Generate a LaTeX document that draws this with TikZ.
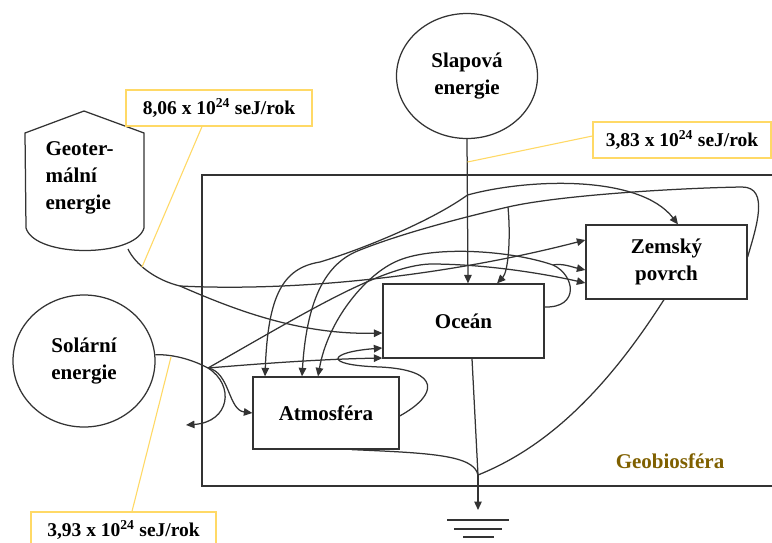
\documentclass[tikz,border=0pt]{standalone}
\usepackage{fontspec}
\setmainfont{Liberation Serif}
\usetikzlibrary{arrows.meta,shapes.geometric}
\definecolor{lnc}{HTML}{333333}
\definecolor{goldline}{HTML}{FFD966}
\definecolor{geotext}{HTML}{7F6000}
\newcommand{\bigbf}{\fontsize{21}{27}\selectfont\bfseries}
\newcommand{\emrate}[1]{#1 x 10\textsuperscript{24} seJ/rok}
\tikzset{
  flowarr/.style  = {-{Triangle[length=8.5pt,width=7.5pt]},lnc,line width=1.25pt},
  flowline/.style = {lnc,line width=1.25pt},
  storebox/.style = {draw=lnc,line width=1.25pt,minimum width=161pt,minimum height=74pt,
                     font=\bigbf,align=center},
  srcnode/.style  = {ellipse,draw=lnc,line width=1.25pt,font=\bigbf,align=center,inner sep=0pt},
  ratebox/.style  = {draw=goldline,line width=1.2pt,minimum height=36pt,
                     font=\fontsize{19.5}{23}\selectfont\bfseries},
  ratelink/.style = {goldline,line width=1.1pt}
}

\begin{document}
\begin{tikzpicture}[x=1pt,y=-1pt]
  \useasboundingbox (0,0) rectangle (772,542);
  \clip (0,0) rectangle (772,542);
  % geobiosphere frame
  \draw[flowline] (202,175) rectangle (790,486);
  \node[font=\bigbf,text=geotext] (gbs) at (670,461) {Geobiosféra};
  % sources
  \node[srcnode,minimum width=141pt,minimum height=125pt] (tide) at (467,76) {Slapová\\energie};
  \node[srcnode,minimum width=142pt,minimum height=132pt] (sun) at (84,361) {Solární\\energie};
  \draw[flowline] (84,111) -- (144,133) -- (144,228) .. controls (135,258) and (35,258) .. (26,228)
    -- (25,133) -- cycle;
  \node[font=\bigbf,align=left,anchor=west] (geo) at (42,178) {Geoter-\\mální\\energie};
  % storages
  \node[storebox] (oce) at (463.5,321) {Oceán};
  \node[storebox] (zem) at (666.5,262) {Zemský\\povrch};
  \node[storebox,minimum width=146pt,minimum height=72pt] (atm) at (326,413) {Atmosféra};
  % rates
  \node[ratebox,minimum width=186pt] (r806) at (219,108) {\emrate{8,06}};
  \node[ratebox,minimum width=178pt] (r383) at (682,140) {\emrate{3,83}};
  \node[ratebox,minimum width=185pt] (r393) at (123.5,530) {\emrate{3,93}};
  % split points
  \coordinate (geoout) at (128,249);
  \coordinate (G) at (180,286);
  \coordinate (S) at (208,368);
  \coordinate (J) at (467.5,195);
  \coordinate (L) at (553,265);
  \coordinate (K) at (508,207);
  \coordinate (M) at (478,475);
  \coordinate (gnd) at (478,520);
  \coordinate (geotap) at (142,267);
  \coordinate (tidetap) at (467.5,162);
  \coordinate (suntap) at (171,357);

  % solar
  \draw[flowline] (sun.5) .. controls (175,354) and (195,361) .. (S);
  \draw[flowarr] (S) .. controls (235,385) and (230,422) .. (186,425);
  \draw[flowarr] (S) .. controls (230,372) and (228,410) .. (atm.west);
  \draw[flowarr] (S) .. controls (280,362) and (330,359) .. (oce.west |- 0,358);
  \draw[flowarr] (S) .. controls (300,316) and (380,266) .. (430,264)
    .. controls (490,264) and (550,275) .. (zem.west |- 0,283);
  % geothermal
  \draw[flowline] (geoout) .. controls (135,264) and (155,280) .. (G);
  \draw[flowarr] (G) .. controls (300,292) and (450,275) .. (zem.west |- 0,240);
  \draw[flowarr] (G) .. controls (235,310) and (300,335) .. (oce.west |- 0,333);
  % tidal
  \draw[flowarr] (tide.south) -- (468,0 |- oce.north);
  \draw[flowarr] (J) .. controls (530,178) and (640,175) .. (678,0 |- zem.north);
  \draw[flowarr] (J) .. controls (430,222) and (360,250) .. (320,262)
    .. controls (283,268) and (268,295) .. (265,0 |- atm.north);
  % exchanges between storages
  \draw[flowarr] (zem.east |- 0,257) .. controls (756,228) and (770,187) .. (742,187)
    .. controls (680,188) and (560,195) .. (K) .. controls (460,218) and (400,234) .. (360,250)
    .. controls (328,262) and (307,295) .. (302,0 |- atm.north);
  \draw[flowarr] (K) .. controls (511,240) and (508,272) .. (497,0 |- oce.north);
  \draw[flowline] (oce.east |- 0,307) .. controls (580,308) and (575,275) .. (L);
  \draw[flowarr] (L) .. controls (562,263) and (572,267) .. (zem.west |- 0,270);
  \draw[flowarr] (L) .. controls (510,250) and (430,245) .. (395,262)
    .. controls (365,276) and (328,320) .. (318,0 |- atm.north);
  \draw[flowarr] (atm.east |- 0,416) .. controls (438,395) and (442,370) .. (380,367)
    .. controls (320,365) and (330,352) .. (oce.west |- 0,348);
  % outflows to the sink
  \draw[flowline] (472,0 |- oce.south) -- (M);
  \draw[flowline] (352,0 |- atm.south) .. controls (430,453) and (474,455) .. (M);
  \draw[flowline] (664,0 |- zem.south) .. controls (600,400) and (540,450) .. (M);
  \draw[flowarr] (M) -- ([yshift=10pt]gnd);
  \draw[flowline] ([xshift=-31pt]gnd) -- ([xshift=31pt]gnd);
  \draw[flowline] ([xshift=-24pt,yshift=-9pt]gnd) -- ([xshift=24pt,yshift=-9pt]gnd);
  \draw[flowline] ([xshift=-15pt,yshift=-17pt]gnd) -- ([xshift=16pt,yshift=-17pt]gnd);
  % rate links
  \draw[ratelink] (r806.south -| 202,0) -- (geotap);
  \draw[ratelink] (r383.west |- 0,136) -- (tidetap);
  \draw[ratelink] (r393.north -| 132,0) -- (suntap);
\end{tikzpicture}
\end{document}
